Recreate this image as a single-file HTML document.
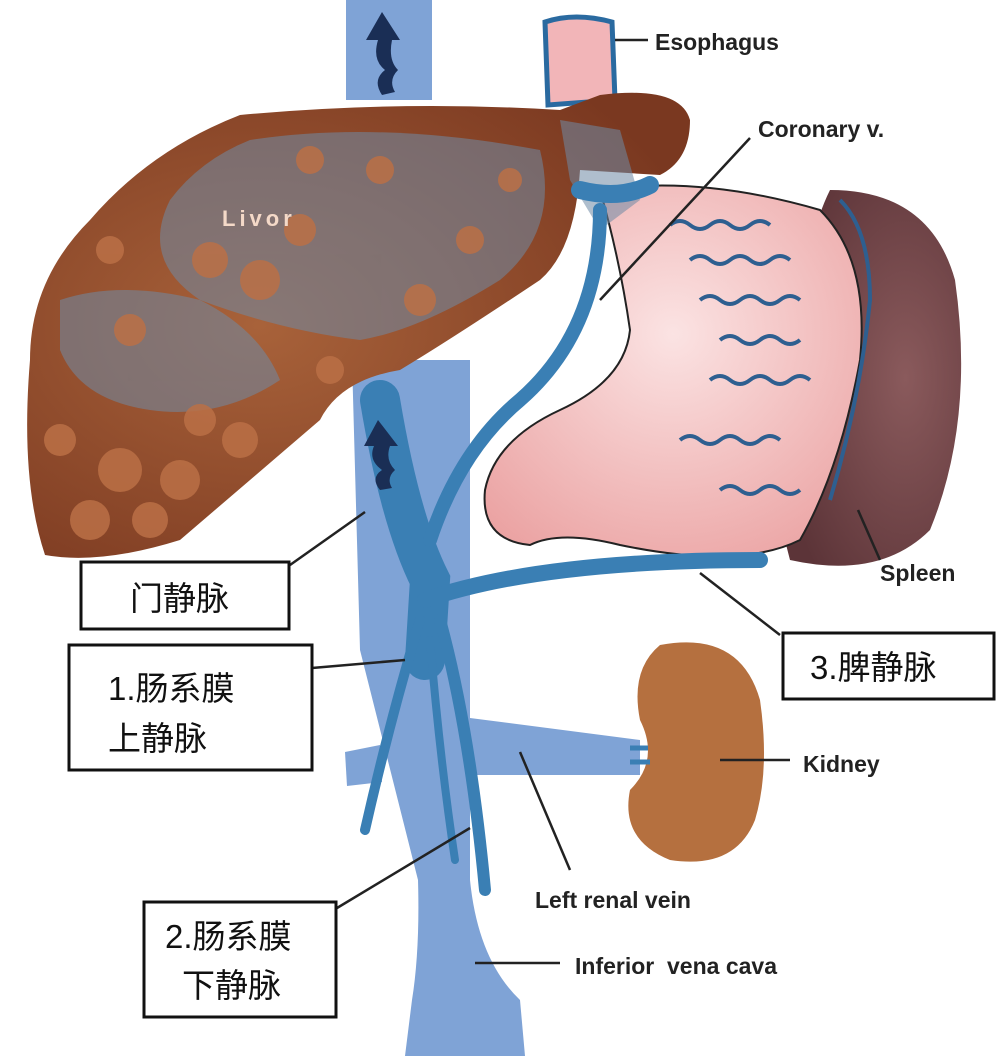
<!DOCTYPE html>
<html><head><meta charset="utf-8"><style>
html,body{margin:0;padding:0;background:#fff;width:1000px;height:1056px;overflow:hidden}
svg{display:block}
.lbl{font-family:"Liberation Sans",sans-serif;font-weight:bold;font-size:23px;fill:#222}
.cn{font-family:"Liberation Sans","Noto Sans CJK SC",sans-serif;font-size:33px;fill:#111}
</style></head><body>
<svg width="1000" height="1056" viewBox="0 0 1000 1056">
<defs>
<radialGradient id="lv" cx="0.35" cy="0.5" r="0.7"><stop offset="0" stop-color="#a8623a"/><stop offset="1" stop-color="#7a3820"/></radialGradient>
<radialGradient id="sp" cx="0.7" cy="0.5" r="0.7"><stop offset="0" stop-color="#8a5a5c"/><stop offset="1" stop-color="#5c3438"/></radialGradient>
<radialGradient id="st" cx="0.5" cy="0.4" r="0.7"><stop offset="0" stop-color="#fbe3e3"/><stop offset="1" stop-color="#eba3a3"/></radialGradient>
</defs>
<path d="M346 0 L432 0 L432 100 L346 100 Z" fill="#7fa3d6"/>
<path d="M352 360 L470 360 L470 880 Q478 960 520 1000 L525 1056 L405 1056 L412 1000 Q420 950 418 880 L360 650 Z" fill="#7fa3d6"/>
<path d="M470 718 L640 740 L640 775 L470 775 Z" fill="#7fa3d6"/>
<path d="M345 752 L380 745 L382 782 L347 786 Z" fill="#7fa3d6"/>
<path d="M382 12 L366 40 L378 40 Q372 60 385 70 Q372 80 382 95 L395 92 Q388 80 398 70 Q388 60 392 40 L400 40 Z" fill="#1a2e55"/>
<path d="M545 22 Q575 12 612 22 L615 100 L548 105 Z" fill="#f2b5b8" stroke="#2a6aa0" stroke-width="5"/>
<path d="M830 190 Q930 190 955 280 Q975 420 930 530 Q880 580 790 560 Q760 450 790 330 Q810 230 830 190Z" fill="url(#sp)"/>
<path d="M600 190 Q700 175 820 210 Q870 260 860 360 Q840 470 800 540 Q740 570 620 545 Q560 530 530 545 Q480 540 485 490 Q495 440 560 410 Q625 380 630 330 Q620 260 600 190Z" fill="url(#st)" stroke="#222" stroke-width="2"/>
<g stroke="#2e5f90" stroke-width="4" fill="none">
<path d="M670 225 q10 -8 20 0 t20 0 t20 0 t20 0 t20 0"/>
<path d="M690 260 q10 -8 20 0 t20 0 t20 0 t20 0 t20 0"/>
<path d="M700 300 q10 -8 20 0 t20 0 t20 0 t20 0 t20 0"/>
<path d="M720 340 q10 -8 20 0 t20 0 t20 0 t20 0"/>
<path d="M710 380 q10 -8 20 0 t20 0 t20 0 t20 0 t20 0"/>
<path d="M680 440 q10 -8 20 0 t20 0 t20 0 t20 0 t20 0"/>
<path d="M720 490 q10 -8 20 0 t20 0 t20 0 t20 0"/>
<path d="M840 200 Q870 230 870 300 Q860 400 830 500"/>
</g>
<path d="M240 115 Q400 100 560 110 L600 95 Q680 85 690 120 Q690 160 660 175 L580 170 Q575 250 540 280 Q450 340 400 370 Q340 380 320 420 Q250 480 180 540 Q100 565 45 555 Q20 480 30 360 Q30 280 90 220 Q150 150 240 115Z" fill="url(#lv)"/>
<g fill="#6f8aa5" opacity="0.55">
<path d="M250 140 Q380 120 540 150 Q560 230 500 280 Q420 330 360 340 Q280 330 200 300 Q140 260 170 200 Q200 160 250 140Z"/>
<path d="M60 300 Q120 280 200 300 Q260 330 280 380 Q220 420 150 410 Q80 400 60 350Z"/>
<path d="M560 120 L620 130 L640 200 L600 230 L570 180Z"/>
</g>
<g fill="#bb7046" opacity="0.85">
<circle cx="120" cy="470" r="22"/><circle cx="180" cy="480" r="20"/><circle cx="90" cy="520" r="20"/><circle cx="240" cy="440" r="18"/><circle cx="150" cy="520" r="18"/><circle cx="210" cy="260" r="18"/><circle cx="260" cy="280" r="20"/><circle cx="300" cy="230" r="16"/><circle cx="310" cy="160" r="14"/>
<circle cx="60" cy="440" r="16"/><circle cx="200" cy="420" r="16"/><circle cx="130" cy="330" r="16"/><circle cx="330" cy="370" r="14"/><circle cx="420" cy="300" r="16"/><circle cx="470" cy="240" r="14"/><circle cx="380" cy="170" r="14"/><circle cx="510" cy="180" r="12"/><circle cx="110" cy="250" r="14"/>
</g>
<text x="222" y="226" font-family="Liberation Sans,sans-serif" font-weight="bold" font-size="22" fill="#f4d9c8" letter-spacing="4">Livor</text>
<g fill="none" stroke="#3a7fb4" stroke-linecap="round">
<path d="M380 400 Q400 520 430 580 L425 660" stroke-width="40"/>
<path d="M425 600 Q540 560 760 560" stroke-width="16"/>
<path d="M600 210 Q600 330 520 400 Q460 450 430 540" stroke-width="14"/>
<path d="M420 620 Q390 720 365 830" stroke-width="10"/>
<path d="M440 620 Q470 730 485 890" stroke-width="12"/>
<path d="M430 640 Q440 760 455 860" stroke-width="8"/>
<path d="M580 190 Q620 200 650 185" stroke-width="18"/>
</g>
<path d="M378 420 L364 446 L374 446 Q368 460 382 470 Q370 478 380 490 L392 488 Q386 478 395 470 Q385 460 390 446 L398 446 Z" fill="#1a2e55"/>
<path d="M660 645 Q740 630 760 700 Q770 770 755 820 Q735 870 670 860 Q620 840 630 790 Q660 760 640 720 Q630 670 660 645Z" fill="#b5703f"/>
<path d="M630 748 L648 748 M630 762 L650 762" stroke="#3a7fb4" stroke-width="5"/>
<g stroke="#222" stroke-width="2.5" fill="none">
<path d="M615 40 L648 40"/>
<path d="M750 138 L600 300"/>
<path d="M858 510 L880 560"/>
<path d="M720 760 L790 760"/>
<path d="M520 752 L570 870"/>
<path d="M475 963 L560 963"/>
<path d="M365 512 L290 565"/>
<path d="M312 668 L405 660"/>
<path d="M337 908 L470 828"/>
<path d="M700 573 L780 635"/>
</g>
<text class="lbl" x="655" y="50">Esophagus</text>
<text class="lbl" x="758" y="137">Coronary v.</text>
<text class="lbl" x="880" y="581">Spleen</text>
<text class="lbl" x="803" y="772">Kidney</text>
<text class="lbl" x="535" y="908">Left renal vein</text>
<text class="lbl" x="575" y="974">Inferior&#160; vena cava</text>
<g fill="#fff" stroke="#111" stroke-width="3">
<rect x="81" y="562" width="208" height="67"/>
<rect x="69" y="645" width="243" height="125"/>
<rect x="783" y="633" width="211" height="66"/>
<rect x="144" y="902" width="192" height="115"/>
</g>
<text class="cn" x="130" y="610">门静脉</text>
<text class="cn" x="108" y="700">1.肠系膜</text>
<text class="cn" x="108" y="750">上静脉</text>
<text class="cn" x="810" y="679">3.脾静脉</text>
<text class="cn" x="165" y="948">2.肠系膜</text>
<text class="cn" x="182" y="997">下静脉</text>
</svg>
</body></html>
